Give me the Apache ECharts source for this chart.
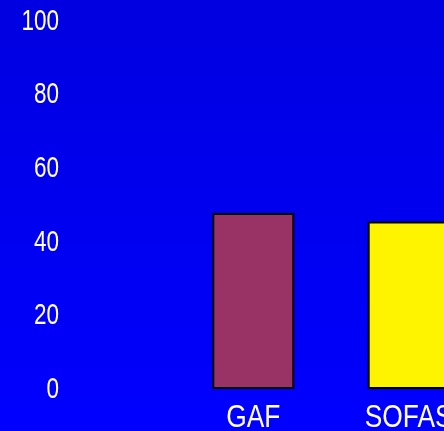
<!DOCTYPE html>
<html>
<head>
<meta charset="utf-8">
<script src="https://cdn.jsdelivr.net/npm/echarts@6/dist/echarts.min.js"></script>
<style>
  html, body { margin: 0; padding: 0; }
  #chart { width: 444px; height: 431px; }
</style>
</head>
<body>
<div id="chart"></div>
<script>
// Scale scores shown as bars
const categories = ['GAF', 'SOFAS'];
const scores = [47.8, 45.5];
const barColors = ['#993366', '#fff400'];
const yTicks = [0, 20, 40, 60, 80, 100];

// Narrow sans look: regular sans squeezed horizontally
const labelFont = '"Liberation Sans", Arial, sans-serif';
const squeezeY = 0.75;
const squeezeX = 0.85;

const chart = echarts.init(document.getElementById('chart'), null, { renderer: 'canvas' });

chart.setOption({
  animation: false,
  backgroundColor: {
    type: 'linear', x: 0, y: 0, x2: 0, y2: 1,
    colorStops: [
      { offset: 0, color: '#0000e0' },
      { offset: 1, color: '#0000ff' }
    ]
  },
  grid: {
    left: 175.6, right: -42.4, top: 21, bottom: 42,
    containLabel: false,
    outerBoundsMode: 'none'
  },
  xAxis: {
    type: 'category',
    data: categories,
    axisLine: { show: false },
    axisTick: { show: false },
    axisLabel: { show: false }
  },
  yAxis: {
    type: 'value',
    min: yTicks[0],
    max: yTicks[yTicks.length - 1],
    interval: yTicks[1] - yTicks[0],
    axisLine: { show: false },
    axisTick: { show: false },
    splitLine: { show: false },
    axisLabel: { show: false }
  },
  series: [{
    type: 'bar',
    data: scores.map((v, i) => ({
      value: v,
      itemStyle: { color: barColors[i] }
    })),
    barWidth: 82,
    itemStyle: { borderColor: '#000000', borderWidth: 2 }
  }]
});

// Axis labels placed from the axes' own scales, drawn in a condensed width
const labelEls = [];
yTicks.forEach(t => {
  const py = chart.convertToPixel({ yAxisIndex: 0 }, t);
  labelEls.push({
    type: 'text',
    x: 59, y: py + 0.5,
    scaleX: squeezeY,
    silent: true,
    style: {
      text: String(t),
      fill: '#ffffff',
      font: '30px ' + labelFont,
      align: 'right',
      verticalAlign: 'middle'
    }
  });
});
const baseY = chart.convertToPixel({ yAxisIndex: 0 }, 0);
categories.forEach(c => {
  const px = chart.convertToPixel({ xAxisIndex: 0 }, c);
  labelEls.push({
    type: 'text',
    x: px, y: baseY + 29.5,
    scaleX: squeezeX,
    silent: true,
    style: {
      text: c,
      fill: '#ffffff',
      font: '31px ' + labelFont,
      align: 'center',
      verticalAlign: 'middle'
    }
  });
});
chart.setOption({ graphic: { elements: labelEls } });
</script>
</body>
</html>
